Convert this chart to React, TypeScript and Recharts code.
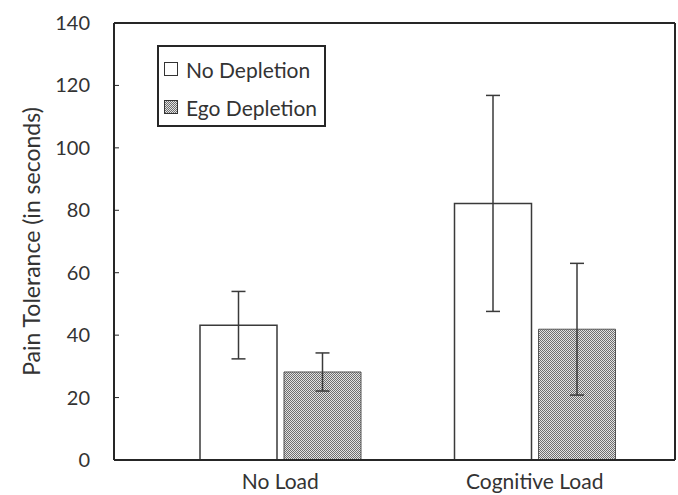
import React from 'react';
import { Bar, BarChart, ErrorBar, Legend, XAxis, YAxis } from 'recharts';

const categories = ['No Load', 'Cognitive Load'];
const seriesNames = ['No Depletion', 'Ego Depletion'];
const noDepletion = [43.2, 82.2];
const noDepletionErr = [10.8, 34.6];
const egoDepletion = [28.2, 41.9];
const egoDepletionErr = [6.1, 21.1];
const yTicks = [0, 20, 40, 60, 80, 100, 120, 140];

const data = categories.map((name, i) => ({
  name,
  noDep: noDepletion[i],
  noDepErr: noDepletionErr[i],
  ego: egoDepletion[i],
  egoErr: egoDepletionErr[i],
}));

const font = 'Lato, "Open Sans", sans-serif';
const textColor = '#333';
const frame = '#262626';

const checker = 'repeating-conic-gradient(#6e6e6e 0 25%, #e2e2e2 0 50%) 0 0 / 2px 2px';

// y tick: label to the left, short tick mark pointing into the plot
const YTick = (props: any) => {
  const { x, y, payload } = props;
  return (
    <g>
      <line x1={x + 24} x2={x + 29} y1={y} y2={y} stroke={frame} strokeWidth={1} />
      <text x={x} y={y} dy="0.35em" textAnchor="end" fill={textColor} fontSize={20} fontFamily={font}>
        {payload.value}
      </text>
    </g>
  );
};

const LegendBox = () => (
  <div
    style={{
      border: `2px solid ${frame}`,
      background: '#fff',
      width: 165,
      height: 78,
      boxSizing: 'content-box',
      fontFamily: font,
      fontSize: 21,
      color: textColor,
      whiteSpace: 'nowrap',
    }}
  >
    {seriesNames.map((s, i) => (
      <div key={s} style={{ display: 'flex', alignItems: 'center', height: 38, paddingLeft: 5, marginTop: i === 0 ? 3 : 0 }}>
        <span
          style={{
            display: 'inline-block',
            width: 12,
            height: 12,
            border: '1px solid #333',
            background: i === 0 ? '#fff' : checker,
            marginRight: 8,
          }}
        />
        <span>{s}</span>
      </div>
    ))}
  </div>
);

export default function App() {
  return (
    <div style={{ position: 'absolute', left: 0, top: 0, width: 678, height: 495, background: '#fff' }}>
      <BarChart
        width={678}
        height={495}
        data={data}
        margin={{ top: 22, right: 2, left: 0, bottom: 0 }}
        barSize={77}
        barGap={7}
      >
        <defs>
          <pattern id="egoPattern" width="2" height="2" patternUnits="userSpaceOnUse">
            <rect x="0" y="0" width="2" height="2" fill="#e2e2e2" />
            <rect x="0" y="0" width="1" height="1" fill="#6e6e6e" />
            <rect x="1" y="1" width="1" height="1" fill="#6e6e6e" />
          </pattern>
        </defs>
        <XAxis
          dataKey="name"
          height={35}
          padding={{ left: 39, right: 13 }}
          tickSize={0}
          tickLine={false}
          tickMargin={14}
          axisLine={{ stroke: frame, strokeWidth: 2 }}
          tick={{ fill: textColor, fontSize: 21, fontFamily: font }}
        />
        <XAxis
          xAxisId="top"
          dataKey="name"
          orientation="top"
          height={1}
          tick={false}
          tickLine={false}
          axisLine={{ stroke: frame, strokeWidth: 2 }}
        />
        <YAxis
          width={114}
          domain={[0, 140]}
          ticks={yTicks}
          interval={0}
          tickSize={0}
          tickMargin={24}
          axisLine={{ stroke: frame, strokeWidth: 2 }}
          tickLine={false}
          tick={<YTick />}
          label={{
            value: 'Pain Tolerance (in seconds)',
            angle: -90,
            position: 'insideLeft',
            offset: 32,
            style: { textAnchor: 'middle', fill: textColor, fontSize: 23, fontFamily: font },
          }}
        />
        <YAxis
          yAxisId="right"
          orientation="right"
          width={1}
          domain={[0, 140]}
          tick={false}
          tickLine={false}
          axisLine={{ stroke: frame, strokeWidth: 2 }}
        />
        <Legend
          layout="vertical"
          align="center"
          verticalAlign="middle"
          content={() => <LegendBox />}
          wrapperStyle={{ top: 45, left: 157, width: 'auto' }}
        />
        <Bar dataKey="noDep" name={seriesNames[0]} fill="#fff" stroke="#3a3a3a" strokeWidth={1.5} isAnimationActive={false}>
          <ErrorBar dataKey="noDepErr" direction="y" width={7} stroke="#3a3a3a" strokeWidth={1.5} isAnimationActive={false} />
        </Bar>
        <Bar dataKey="ego" name={seriesNames[1]} fill="url(#egoPattern)" stroke="#555" strokeWidth={1} isAnimationActive={false}>
          <ErrorBar dataKey="egoErr" direction="y" width={7} stroke="#3a3a3a" strokeWidth={1.5} isAnimationActive={false} />
        </Bar>
      </BarChart>
    </div>
  );
}
